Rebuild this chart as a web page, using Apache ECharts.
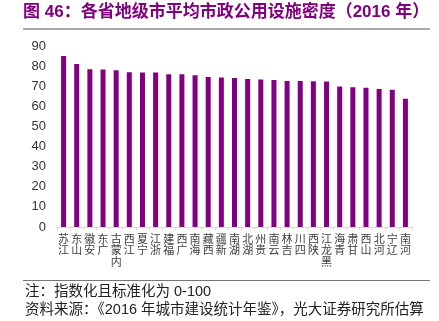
<!DOCTYPE html>
<html><head><meta charset="utf-8">
<script src="https://cdn.jsdelivr.net/npm/echarts@6/dist/echarts.min.js"></script>
<style>html,body{margin:0;padding:0;background:#fff}#c{width:439px;height:321px}</style>
</head><body><div id="c"></div>
<script>
const categories = ['江苏','山东','安徽','广东','内蒙古','江西','宁夏','浙江','福建','广西','海南','西藏','新疆','湖南','湖北','贵州','云南','吉林','四川','陕西','黑龙江','青海','甘肃','山西','河北','辽宁','河南'];
const values = [85,81,78.5,78.3,78,77,76.8,76.8,76,76,75.5,74.6,74.3,74.1,73.6,73.3,73.1,72.6,72.6,72.5,72.3,69.8,69.5,69.3,68.6,68.3,63.8];
const yTicks = [0,10,20,30,40,50,60,70,80,90];
const titleText = '图 46：各省地级市平均市政公用设施密度（2016 年）';
const noteText = '注：指数化且标准化为 0-100';
const sourceText = '资料来源：《2016 年城市建设统计年鉴》，光大证券研究所估算';

const chart = echarts.init(document.getElementById('c'));
const cjk = '"Liberation Sans", Arial, "Noto Sans CJK SC", sans-serif';
chart.setOption({
  animation: false,
  grid: {left: 57, right: 27, top: 46, bottom: 94},
  xAxis: {
    type: 'category', data: categories,
    axisLine: {lineStyle: {color: '#d9d9d9'}},
    axisTick: {show: true, length: 3, lineStyle: {color: '#d9d9d9'}},
    axisLabel: {
      interval: 0, margin: 6, color: '#404040', fontSize: 11, lineHeight: 11.5,
      fontFamily: '"Noto Sans CJK SC", sans-serif', verticalAlign: 'top',
      formatter: v => v.split('').reverse().join('\n')
    }
  },
  yAxis: {
    type: 'value', min: yTicks[0], max: yTicks[yTicks.length-1], interval: 10,
    axisLine: {show: false}, axisTick: {show: false}, splitLine: {show: false},
    axisLabel: {color: '#333', fontSize: 13, fontFamily: cjk, margin: 11}
  },
  series: [{
    type: 'bar', data: values, barWidth: 5,
    itemStyle: {color: '#800080'}
  }],
  graphic: [
    {type: 'text', left: 23, top: 4, style: {text: titleText, fill: '#800080', font: 'bold 17px "Liberation Sans", "Noto Sans CJK SC", sans-serif'}},
    {type: 'line', shape: {x1: 23, y1: 29, x2: 430, y2: 29}, style: {stroke: '#555', lineWidth: 1.2}},
    {type: 'line', shape: {x1: 23, y1: 280.5, x2: 430, y2: 280.5}, style: {stroke: '#777', lineWidth: 1}},
    {type: 'text', left: 25, top: 285, style: {text: noteText, fill: '#222', font: '14.5px "Liberation Sans", "Noto Sans CJK SC", sans-serif'}},
    {type: 'text', left: 25, top: 303, style: {text: sourceText, fill: '#222', font: '14.5px "Liberation Sans", "Noto Sans CJK SC", sans-serif'}}
  ]
});
</script></body></html>
